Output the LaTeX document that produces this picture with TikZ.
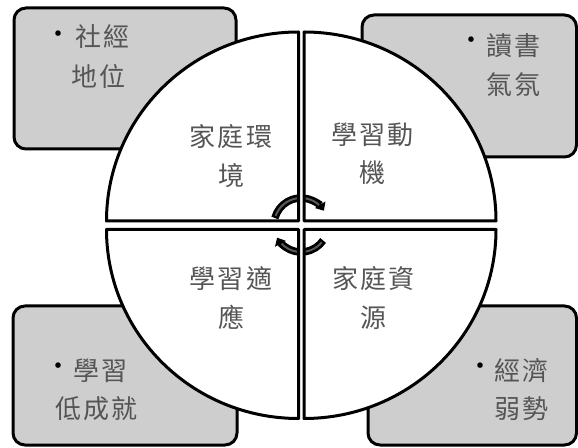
\documentclass[tikz,border=0pt]{standalone}
\usepackage{fontspec}
\usetikzlibrary{arrows.meta}
\newfontfamily\cjk[LetterSpace=8]{Noto Sans CJK TC}
\definecolor{boxfill}{RGB}{206,206,206}
\definecolor{txt}{RGB}{85,85,85}
\begin{document}
\begin{tikzpicture}[x=1pt,y=1pt,line join=round,
  sidebox/.style={draw=black,line width=3pt,fill=boxfill,rounded corners=12pt,inner sep=0pt},
  quadfill/.style={fill=white},
  quadline/.style={draw=black,line width=3pt},
  qtext/.style={font=\cjk\fontsize{26}{38.5}\selectfont,text=txt,align=center,inner sep=0pt},
  btext/.style={font=\cjk\fontsize{26}{38.5}\selectfont,text=txt,anchor=west,inner sep=0pt},
  bulletmark/.style={font=\cjk\fontsize{26}{26}\selectfont,text=black,inner sep=0pt},
  cyc/.style={line width=7.5pt,-{Triangle[width=12pt,length=7pt]}}]
\useasboundingbox (0,0) rectangle (578,447);
% side boxes
\node[sidebox,minimum width=222pt,minimum height=141pt] (b1) at (125,368.5) {};
\node[sidebox,minimum width=214.5pt,minimum height=142pt] (b2) at (469.25,361) {};
\node[sidebox,minimum width=224pt,minimum height=139pt] (b3) at (125,71.5) {};
\node[sidebox,minimum width=208.5pt,minimum height=139pt] (b4) at (472.25,71.5) {};
% quadrants (fill)
\def\qTL{(298.5,226) -- ++(-192,0) arc[start angle=180,end angle=90,x radius=192,y radius=189] -- cycle}
\def\qTR{(304,226) -- ++(0,189) arc[start angle=90,end angle=0,x radius=192,y radius=189] -- cycle}
\def\qBR{(304,217.5) -- ++(192,0) arc[start angle=0,end angle=-90,x radius=192,y radius=189] -- cycle}
\def\qBL{(298.5,217.5) -- ++(0,-189) arc[start angle=270,end angle=180,x radius=192,y radius=189] -- cycle}
\path[quadfill] \qTL; \path[quadfill] \qTR; \path[quadfill] \qBR; \path[quadfill] \qBL;
% central cycle arrows
\coordinate (c) at (301,222);
\draw[cyc] (c) ++(165:27) arc[start angle=165,end angle=32,radius=27];
\draw[cyc] (c) ++(-35:27) arc[start angle=-35,end angle=-152,radius=27];
\draw[line width=2pt,black!65] (c) ++(160:27) arc[start angle=160,end angle=48,radius=27];
\draw[line width=2pt,black!65] (c) ++(-40:27) arc[start angle=-40,end angle=-136,radius=27];
% gaps between quadrants
\fill[white] (298.5,185) rectangle (304,262);
\fill[white] (262,217.5) rectangle (340,226);
% quadrant outlines
\path[quadline] \qTL; \path[quadline] \qTR; \path[quadline] \qBR; \path[quadline] \qBL;
% quadrant texts
\node[qtext] (q1) at (231,291) {家庭環\\境};
\node[qtext] (q2) at (372.5,293) {學習動\\機};
\node[qtext] (q3) at (231,149) {學習適\\應};
\node[qtext] (q4) at (373.5,149) {家庭資\\源};
% box texts
\node[bulletmark] (d1) at (58,410) {•};
\node[btext] (t1a) at (75,410.5) {社經};
\node[btext] (t1b) at (71,370.5) {地位};
\node[bulletmark] (d2) at (471,404) {•};
\node[btext] (t2a) at (486,401) {讀書};
\node[btext] (t2b) at (486,362) {氣氛};
\node[bulletmark] (d3) at (58,78) {•};
\node[btext] (t3a) at (73,76.5) {學習};
\node[btext] (t3b) at (55,38) {低成就};
\node[bulletmark] (d4) at (480,78) {•};
\node[btext] (t4a) at (494,76.5) {經濟};
\node[btext] (t4b) at (494,38.5) {弱勢};
\end{tikzpicture}
\end{document}
